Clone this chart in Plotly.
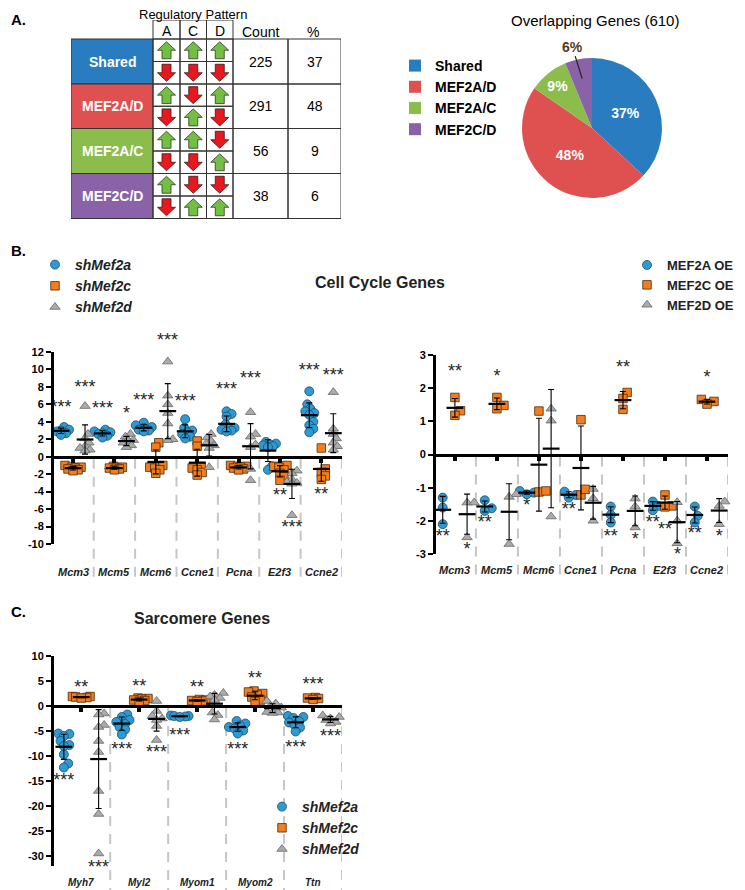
import numpy as np
import plotly.graph_objects as go

# ---------------- DATA ----------------
groups = ["Shared", "MEF2A/D", "MEF2A/C", "MEF2C/D"]
counts = [225, 291, 56, 38]
pattern_cols = ["A", "C", "D"]
# per group: top row, bottom row ; 1 = up, -1 = down
patterns = [
    [[1, 1, 1], [-1, -1, -1]],
    [[1, -1, 1], [-1, 1, -1]],
    [[1, 1, -1], [-1, -1, 1]],
    [[1, -1, -1], [-1, 1, 1]],
]

genes_cc = ["Mcm3", "Mcm5", "Mcm6", "Ccne1", "Pcna", "E2f3", "Ccne2"]
kd_names = ["shMef2a", "shMef2c", "shMef2d"]
oe_names = ["MEF2A OE", "MEF2C OE", "MEF2D OE"]

cc_kd_a = [
    [3.4, 3.2, 3.1, 3.0, 2.9, 2.7, 2.5],
    [3.1, 2.9, 2.8, 2.7, 2.6, 2.4, 2.2],
    [3.9, 3.6, 3.4, 3.3, 3.1, 3.0, 2.9],
    [4.3, 3.3, 3.0, 2.8, 2.6, 2.3, 2.1],
    [5.2, 4.9, 4.6, 3.7, 3.3, 3.2, 3.1, 3.0, 2.9],
    [1.7, 1.5, 1.4, 1.3, 1.2, 1.1, -1.1, -1.5],
    [7.5, 6.0, 5.5, 5.2, 5.0, 4.8, 4.0, 3.6, 3.2, 2.8],
]
cc_kd_c = [
    [-1.0, -1.2, -1.2, -1.3, -1.4, -1.5, -1.6],
    [-1.1, -1.2, -1.3, -1.3, -1.4, -1.5],
    [1.6, 1.1, -1.0, -1.2, -1.3, -1.5, -1.9],
    [1.8, 1.2, -1.1, -1.3, -1.5, -1.8, -2.1],
    [-1.0, -1.1, -1.1, -1.2, -1.3, -1.4, -1.5],
    [-1.0, -1.1, -1.2, -1.5, -1.9, -2.3, -2.7],
    [1.0, -1.4, -1.8, -2.2, -2.6],
]
cc_kd_d = [
    [5.8, 2.6, 2.1, 1.6, 1.2, 1.0, 0.8, 0.7],
    [2.6, 2.3, 1.9, 1.8, 1.6, 1.3, 1.1],
    [10.9, 7.0, 6.0, 5.0, 3.8, 2.0, 1.9],
    [2.6, 2.2, 1.8, 1.5, 1.3, 1.0, -1.2],
    [5.1, 2.6, 2.3, 1.4, 1.1, -1.4, -2.7],
    [-1.6, -1.9, -2.6, -2.9, -3.0, -3.1, -6.7],
    [7.4, 3.2, 2.6, 2.1, 1.6, 1.2, 0.8],
]
# (gene index, series index, y, label)
cc_kd_stars = [
    (0, 0, 6.0, "***"), (0, 1, -1.6, "***"), (0, 2, 8.3, "***"),
    (1, 0, 5.9, "***"), (1, 1, -1.6, "***"), (1, 2, 5.3, "*"),
    (2, 0, 6.8, "***"), (2, 2, 13.8, "***"),
    (3, 0, 6.7, "***"),
    (4, 0, 8.0, "***"), (4, 1, -1.8, "*"), (4, 2, 9.3, "***"),
    (5, 1, -4.1, "**"), (5, 2, -7.8, "***"),
    (6, 0, 10.2, "***"), (6, 1, -4.0, "**"), (6, 2, 9.6, "***"),
]

cc_oe_a = [
    [-1.3, -1.6, -2.1],
    [-1.38, -1.62, -1.70],
    [-1.1, -1.15, -1.2],
    [-1.12, -1.22, -1.3],
    [-1.57, -1.82, -2.05],
    [-1.42, -1.55, -1.68],
    [-1.57, -1.85, -2.05],
]
cc_oe_c = [
    [1.72, 1.32, 1.18],
    [1.72, 1.48, 1.38],
    [1.31, -1.13, -1.10],
    [1.05, -1.22, -1.05],
    [1.87, 1.69, 1.36],
    [-1.22, -1.55, -1.58],
    [1.66, 1.60, 1.52],
]
cc_oe_d = [
    [-1.45, -1.45, -2.5],
    [-1.2, -1.28, -2.7],
    [1.38, 1.02, -1.87],
    [-1.04, -1.32, -2.0],
    [-1.33, -1.57, -2.2],
    [-1.44, -2.0, -2.68],
    [-1.42, -1.55, -2.1],
]
cc_oe_stars = [
    (0, 0, -2.37, "**"), (0, 1, 2.58, "**"), (0, 2, -2.78, "*"),
    (1, 0, -1.95, "**"), (1, 1, 2.45, "*"),
    (2, 0, -1.45, "*"),
    (3, 0, -1.58, "**"),
    (4, 0, -2.37, "**"), (4, 1, 2.7, "**"), (4, 2, -2.47, "*"),
    (5, 0, -1.95, "**"), (5, 1, -2.17, "**"), (5, 2, -2.88, "*"),
    (6, 0, -2.29, "**"), (6, 1, 2.42, "*"), (6, 2, -2.37, "*"),
]

genes_sarc = ["Myh7", "Myl2", "Myom1", "Myom2", "Ttn"]
sarc_a = [
    [-5.5, -5.6, -6.0, -7.0, -7.8, -8.0, -9.7, -11.5, -12.3],
    [-1.7, -2.2, -2.8, -3.2, -3.6, -4.2, -4.7, -5.7],
    [-1.9, -2.0, -2.0, -2.1, -2.2],
    [-3.0, -3.5, -3.9, -4.2, -4.5, -4.9, -5.5],
    [-2.0, -2.2, -2.4, -3.0, -3.3, -3.8, -4.3, -5.1],
]
sarc_c = [
    [1.9, 1.9, 1.8, 1.7, 1.6],
    [1.6, 1.5, 1.4, 1.2, 1.1, 0.9],
    [1.3, 1.2, 1.1, 1.0, 0.9],
    [3.0, 2.8, 2.5, 2.2, 1.8, 1.2, 0.9],
    [1.7, 1.6, 1.5, 1.3],
]
sarc_d = [
    [-1.5, -1.7, -3.8, -4.2, -7.0, -9.2, -17.0, -21.6, -29.5],
    [1.0, -1.0, -2.0, -2.5, -2.8, -4.0, -6.8],
    [2.6, 2.2, 1.9, 1.6, 1.2, -1.3, -1.8, -2.7],
    [1.0, 0.5, 0.0, -0.3, -0.8, -1.2, -1.3, -1.4],
    [-1.9, -2.2, -2.5, -2.8, -3.2, -3.5],
]
sarc_stars = [
    (0, 0, -14.3, "***"), (0, 1, 4.3, "**"), (0, 2, -31.3, "***"),
    (1, 0, -8.0, "***"), (1, 1, 4.5, "**"), (1, 2, -8.6, "***"),
    (2, 0, -5.3, "***"), (2, 1, 4.3, "**"),
    (3, 0, -8.1, "***"), (3, 1, 6.1, "**"),
    (4, 0, -7.7, "***"), (4, 1, 5.0, "***"), (4, 2, -5.5, "***"),
]

cc_kd_ticks = [12, 10, 8, 6, 4, 2, 0, -2, -4, -6, -8, -10]
cc_oe_ticks = [3, 2, 1, 0, -1, -2, -3]
sarc_ticks = [10, 5, 0, -5, -10, -15, -20, -25, -30]

# ---------------- STYLE ----------------
# the page body adds an 8px margin: the figure is sized so that it fills the window exactly
OFF = 8
FW, FH = 745 - OFF, 890 - OFF
FONT = "Liberation Sans, Arial, Helvetica, sans-serif"
STAR_SHIFT = 4.0  # px: asterisk glyphs sit above the text box centre
group_colors = ["#2a7cc0", "#df5050", "#8cbc4c", "#8962a8"]
series_style = [
    dict(symbol="circle", size=9, color="#2e9ad4", line=dict(color="#1d4b66", width=0.8)),
    dict(symbol="square", size=8.5, color="#f47d20", line=dict(color="#4a2a0c", width=0.8)),
    dict(symbol="triangle-up", size=9, color="#ababab", line=dict(color="#666666", width=0.8)),
]


def pxx(x):
    return (x - OFF) / FW


def pxy(y):
    return 1 - (y - OFF) / FH


def swarm(vals, ppy, d, cap):
    order = sorted(range(len(vals)), key=lambda k: vals[k])
    placed = []
    offs = [0.0] * len(vals)
    cands = [0.0]
    step = d / 5.0
    j = 1
    while j * step <= cap:
        cands += [j * step, -j * step]
        j += 1
    for k in order:
        yv = vals[k] * ppy
        best, bestd = 0.0, -1.0
        for c in cands:
            md = min([((c - a) ** 2 + (yv - b) ** 2) ** 0.5 for a, b in placed] or [1e9])
            if md >= d:
                best = c
                break
            if md > bestd + 0.5:
                best, bestd = c, md
        placed.append((best, yv))
        offs[k] = best
    return offs


fig = go.Figure()
shapes = []
annotations = []
layout_axes = {}


def add_dot_chart(n, genes, data, names, legend, stars, xdom, ydom, yrange, xrange,
                  offsets, ticks, label_y, sep_bottom, label_size, dsw, cap):
    xa = "x" if n == 1 else f"x{n}"
    ya = "y" if n == 1 else f"y{n}"
    xkey = "xaxis" if n == 1 else f"xaxis{n}"
    ykey = "yaxis" if n == 1 else f"yaxis{n}"
    ppx = (xdom[1] - xdom[0]) / (xrange[1] - xrange[0])
    ppy = (ydom[1] - ydom[0]) / (yrange[1] - yrange[0])
    zero_px = ydom[1] - (0 - yrange[0]) * ppy

    # stars inside the axis range: text trace drawn first (points on top)
    inside = [st for st in stars if yrange[0] <= st[2] - STAR_SHIFT / ppy <= yrange[1]]
    outside = [st for st in stars if st not in inside]
    fig.add_trace(go.Scatter(
        x=[g + offsets[s] for g, s, y, t in inside],
        y=[y - STAR_SHIFT / ppy for g, s, y, t in inside],
        text=[t for g, s, y, t in inside], mode="text",
        textposition="middle center",
        textfont=dict(family=FONT, size=18, color="#262626"),
        xaxis=xa, yaxis=ya, showlegend=False, cliponaxis=False, hoverinfo="skip"))
    # stars beyond the axis range: annotations placed through the same scale
    for g, s, y, t in outside:
        ypx = ydom[1] - (y - yrange[0]) * ppy
        annotations.append(dict(xref=xa, yref="paper", x=g + offsets[s], y=pxy(ypx),
                                xanchor="center", yanchor="middle", yshift=-STAR_SHIFT,
                                text=t, showarrow=False,
                                font=dict(family=FONT, size=18, color="#262626")))

    for s in range(3):
        xs, ys = [], []
        for g, vals in enumerate(data[s]):
            offs = swarm(vals, ppy, dsw, cap)
            for v, o in zip(vals, offs):
                xs.append(g + offsets[s] + o / ppx)
                ys.append(v)
        fig.add_trace(go.Scatter(
            x=xs, y=ys, mode="markers", marker=series_style[s], name=names[s],
            xaxis=xa, yaxis=ya, legend=legend, cliponaxis=False, showlegend=True))

    for s in range(3):
        fig.add_trace(go.Scatter(
            x=[g + offsets[s] for g in range(len(genes))],
            y=[float(np.mean(v)) for v in data[s]],
            error_y=dict(type="data", array=[float(np.std(v, ddof=1)) for v in data[s]],
                         visible=True, thickness=1.1, width=3, color="black"),
            mode="markers",
            marker=dict(symbol="line-ew", size=12, color="black",
                        line=dict(width=2.2, color="black")),
            xaxis=xa, yaxis=ya, showlegend=False, cliponaxis=False, hoverinfo="skip"))

    layout_axes[xkey] = dict(
        domain=[pxx(xdom[0]), pxx(xdom[1])], range=xrange, anchor="free",
        position=pxy(zero_px), showline=True, linewidth=3, linecolor="black",
        ticks="outside", tickvals=list(range(len(genes))), ticklen=4, tickwidth=4,
        tickcolor="black", showticklabels=False, showgrid=False, zeroline=False)
    layout_axes[ykey] = dict(
        domain=[pxy(ydom[1]), pxy(ydom[0])], range=yrange, anchor=xa,
        showline=True, linewidth=3, linecolor="black", ticks="outside",
        ticklen=5, tickwidth=2, tickcolor="black",
        tickvals=ticks, ticktext=[str(t) for t in ticks],
        tickfont=dict(family=FONT, size=11, color="black", weight="bold"),
        showgrid=False, zeroline=False)

    for i in range(len(genes)):
        shapes.append(dict(type="line", xref=xa, yref="paper", x0=i + 0.5, x1=i + 0.5,
                           y0=pxy(zero_px + 2), y1=pxy(sep_bottom),
                           line=dict(color="#c6c6c6", width=2, dash="10px,8px"),
                           layer="below"))
        annotations.append(dict(xref=xa, yref="paper", x=i, y=pxy(label_y),
                                xanchor="center", yanchor="middle",
                                text=f"<b><i>{genes[i]}</i></b>", showarrow=False,
                                font=dict(family=FONT, size=label_size, color="#222")))


add_dot_chart(1, genes_cc, [cc_kd_a, cc_kd_c, cc_kd_d], kd_names, "legend2", cc_kd_stars,
              (54, 342), (352, 544), [-10, 12], [-0.46, 6.5], [-0.29, 0, 0.29],
              cc_kd_ticks, 572, 582, 11, 5.0, 8)
add_dot_chart(2, genes_cc, [cc_oe_a, cc_oe_c, cc_oe_d], oe_names, "legend3", cc_oe_stars,
              (436, 728), (355, 554), [-3, 3], [-0.45, 6.5], [-0.29, 0, 0.29],
              cc_oe_ticks, 570, 580, 11, 7.0, 9)
add_dot_chart(3, genes_sarc, [sarc_a, sarc_c, sarc_d], kd_names, "legend4", sarc_stars,
              (54, 342), (656, 866), [-32, 10], [-0.47, 4.5], [-0.3, 0, 0.3],
              sarc_ticks, 882, 892, 10, 5.5, 9)

# ---------------- TABLE (panel A) ----------------
tx0, tx1, ty0, ty1 = 71, 341, 20, 219
label_x = (71, 153)
col_edges = [153, 180, 206.5, 233]
count_x = (233, 288)
pct_x = (288, 341)
head_y = (20, 39)
row_edges = [39, 84, 128.5, 173.5, 218.5]
layout_axes["xaxis4"] = dict(domain=[pxx(tx0), pxx(tx1)], range=[tx0, tx1], visible=False,
                             anchor="y4", fixedrange=True)
layout_axes["yaxis4"] = dict(domain=[pxy(ty1), pxy(ty0)], range=[ty1, ty0], visible=False,
                             anchor="x4", fixedrange=True)
border = dict(color="#333333", width=1)
pcts = [round(c / sum(counts) * 100) for c in counts]


def tnote(x, y, text, size=14, color="black"):
    annotations.append(dict(xref="x4", yref="y4", x=x, y=y, text=text, showarrow=False,
                            xanchor="center", yanchor="middle",
                            font=dict(family=FONT, size=size, color=color)))


for j, name in enumerate(pattern_cols):
    shapes.append(dict(type="rect", xref="x4", yref="y4", x0=col_edges[j], x1=col_edges[j + 1],
                       y0=head_y[0], y1=head_y[1], line=border))
    tnote((col_edges[j] + col_edges[j + 1]) / 2, (head_y[0] + head_y[1]) / 2 + 1, name)
tnote(sum(count_x) / 2, 32, "Count")
tnote(sum(pct_x) / 2 - 2, 32, "%")

up_x, up_y, dn_x, dn_y = [], [], [], []
for i, g in enumerate(groups):
    y0, y1 = row_edges[i], row_edges[i + 1]
    mid = (y0 + y1) / 2
    shapes.append(dict(type="rect", xref="x4", yref="y4", x0=label_x[0], x1=label_x[1],
                       y0=y0, y1=y1, fillcolor=group_colors[i], line=border, layer="below"))
    tnote(sum(label_x) / 2, mid, f"<b>{g}</b>", 14, "white")
    for rect_x in (count_x, pct_x):
        shapes.append(dict(type="rect", xref="x4", yref="y4", x0=rect_x[0], x1=rect_x[1],
                           y0=y0, y1=y1, line=border))
    tnote(sum(count_x) / 2, mid, str(counts[i]))
    tnote(sum(pct_x) / 2, mid, str(pcts[i]))
    for k, (sy0, sy1) in enumerate([(y0, mid), (mid, y1)]):
        cy = (sy0 + sy1) / 2
        for j in range(3):
            shapes.append(dict(type="rect", xref="x4", yref="y4", x0=col_edges[j],
                               x1=col_edges[j + 1], y0=sy0, y1=sy1, line=border))
            cx = (col_edges[j] + col_edges[j + 1]) / 2
            d = patterns[i][k][j]
            s = -d  # screen direction (y axis reversed)
            pts = [(cx, cy + s * 8.5), (cx + 9, cy), (cx + 4.5, cy), (cx + 4.5, cy - s * 8.5),
                   (cx - 4.5, cy - s * 8.5), (cx - 4.5, cy), (cx - 9, cy), (cx, cy + s * 8.5)]
            tx = up_x if d > 0 else dn_x
            ty = up_y if d > 0 else dn_y
            tx.extend([p[0] for p in pts] + [None])
            ty.extend([p[1] for p in pts] + [None])

fig.add_trace(go.Scatter(x=up_x, y=up_y, mode="lines", fill="toself", fillcolor="#72bf44",
                         line=dict(color="#2b3a22", width=0.8), xaxis="x4", yaxis="y4",
                         showlegend=False, hoverinfo="skip"))
fig.add_trace(go.Scatter(x=dn_x, y=dn_y, mode="lines", fill="toself", fillcolor="#e8191e",
                         line=dict(color="#3a1515", width=0.8), xaxis="x4", yaxis="y4",
                         showlegend=False, hoverinfo="skip"))

# ---------------- PIE ----------------
pcx, pcy, pr = 592, 128, 70
fig.add_trace(go.Pie(
    labels=groups, values=counts, sort=False, direction="clockwise", rotation=0,
    marker=dict(colors=group_colors),
    text=[f"{p}%" if p >= 8 else "" for p in pcts], texttemplate="%{text}",
    textposition="inside", insidetextorientation="horizontal",
    textfont=dict(family=FONT, size=14, color="white", weight="bold"),
    domain=dict(x=[pxx(pcx - pr), pxx(pcx + pr)], y=[pxy(pcy + pr), pxy(pcy - pr)]),
    legend="legend", hoverinfo="skip"))

# small-slice callout
cum = sum(counts[:3]) / sum(counts)
midang = np.deg2rad((cum + counts[3] / sum(counts) / 2) * 360)
tipx = pcx + 0.72 * pr * np.sin(midang)
tipy = pcy - 0.72 * pr * np.cos(midang)
annotations.append(dict(xref="paper", yref="paper", x=pxx(tipx), y=pxy(tipy),
                        ax=-10, ay=-32, text=f"<b>{pcts[3]}%</b>", showarrow=True,
                        arrowhead=0, arrowwidth=1.2, arrowcolor="#222", standoff=0,
                        font=dict(family=FONT, size=14, color="#5a3a1e")))


# ---------------- TEXT ----------------
def ptext(x, y, text, size, bold=False, color="black"):
    annotations.append(dict(xref="paper", yref="paper", x=pxx(x), y=pxy(y),
                            xanchor="center", yanchor="middle",
                            text=f"<b>{text}</b>" if bold else text, showarrow=False,
                            font=dict(family=FONT, size=size, color=color)))


ptext(18, 19, "A.", 15, True)
ptext(18, 250, "B.", 15, True)
ptext(18, 611, "C.", 15, True)
ptext(193, 15, "Regulatory Pattern", 13)
ptext(595, 21, f"Overlapping Genes ({sum(counts)})", 15)
ptext(380, 283, "Cell Cycle Genes", 16, True, "#222")
ptext(202, 618, "Sarcomere Genes", 16, True, "#222")

leg_common = dict(xanchor="left", yanchor="top", bgcolor="rgba(0,0,0,0)", borderwidth=0,
                  tracegroupgap=0)
fig.update_layout(
    width=FW, height=FH, margin=dict(l=0, r=0, t=0, b=0, autoexpand=False),
    plot_bgcolor="white", paper_bgcolor="white", showlegend=True,
    font=dict(family=FONT),
    legend=dict(x=pxx(395), y=pxy(50), font=dict(family=FONT, size=14, color="black", weight="bold"),
                **leg_common),
    legend2=dict(x=pxx(35), y=pxy(249), font=dict(family=FONT, size=14, color="#222",
                                                  weight="bold", style="italic"), **leg_common),
    legend3=dict(x=pxx(627), y=pxy(250), font=dict(family=FONT, size=13, color="#222",
                                                   weight="bold"), **leg_common),
    legend4=dict(x=pxx(262), y=pxy(791), font=dict(family=FONT, size=14, color="#222",
                                                   weight="bold", style="italic"), **leg_common),
    shapes=shapes, annotations=annotations, **layout_axes)

fig.write_html("out.html")
